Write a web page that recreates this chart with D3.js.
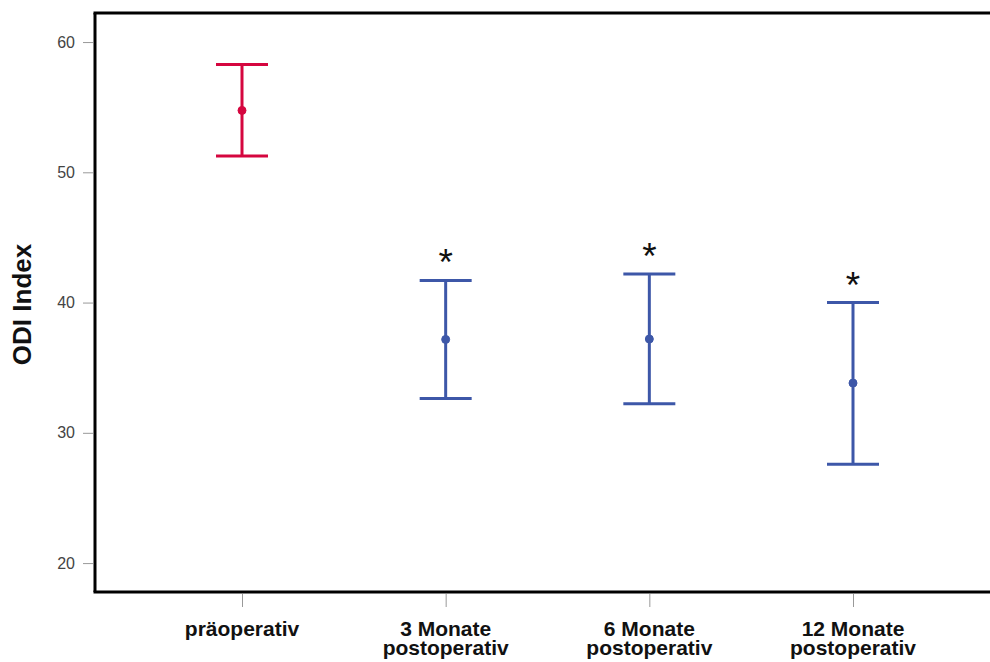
<!DOCTYPE html>
<html>
<head>
<meta charset="utf-8">
<script src="https://cdn.jsdelivr.net/npm/d3@7"></script>
<style>
  html, body { margin: 0; padding: 0; background: #fff; }
  svg { display: block; }
</style>
</head>
<body>
<svg id="chart" width="990" height="662"></svg>
<script>
// ODI index: mean with 95% confidence interval per time point
const categories = ["präoperativ", "3 Monate postoperativ", "6 Monate postoperativ", "12 Monate postoperativ"];
const means = [54.75, 37.17, 37.2, 33.82];
const lower = [51.25, 32.64, 32.23, 27.58];
const upper = [58.27, 41.70, 42.19, 40.0];
const significant = [false, true, true, true];
const yTicks = [20, 30, 40, 50, 60];

const svg = d3.select("#chart");
const W = 990, H = 662;
const margin = { left: 95, top: 13, right: 0, bottom: 70 };
const font = "Arial, 'Liberation Sans', sans-serif";

const y = d3.scaleLinear()
  .domain([17.78, 62.23])
  .range([H - margin.bottom, margin.top]);

const x = d3.scalePoint()
  .domain(categories)
  .range([242, 853]);

const red = "#d5063f", blue = "#3d57a8";
const colorOf = i => i === 0 ? red : blue;

// Frame: left, top and bottom lines
const frame = svg.append("g").attr("stroke", "#000").attr("stroke-width", 3).attr("fill", "none");
frame.append("line").attr("x1", margin.left).attr("x2", margin.left)
  .attr("y1", y.range()[1]).attr("y2", y.range()[0]);
frame.append("line").attr("x1", margin.left - 1.5).attr("x2", W)
  .attr("y1", y.range()[1]).attr("y2", y.range()[1]);
frame.append("line").attr("x1", margin.left - 1.5).attr("x2", W)
  .attr("y1", y.range()[0]).attr("y2", y.range()[0]);

// Y axis
const yAxis = svg.append("g")
  .attr("transform", `translate(${margin.left - 2},0)`)
  .call(d3.axisLeft(y).tickValues(yTicks).tickSize(10).tickPadding(8).tickFormat(d3.format("d")));
yAxis.select(".domain").remove();
yAxis.selectAll(".tick line").attr("stroke", "#999").attr("stroke-width", 1);
yAxis.selectAll(".tick text")
  .attr("fill", "#444")
  .style("font-family", font)
  .style("font-size", "16px");

// X axis
const xAxis = svg.append("g")
  .attr("transform", `translate(0,${y.range()[0] + 2})`)
  .call(d3.axisBottom(x).tickSize(13).tickFormat(""));
xAxis.select(".domain").remove();
xAxis.selectAll(".tick line").attr("stroke", "#999").attr("stroke-width", 1);

// Two-line category labels
const labelG = svg.append("g")
  .style("font-family", font)
  .style("font-size", "21px")
  .style("font-weight", "bold")
  .attr("fill", "#111")
  .attr("text-anchor", "middle");
categories.forEach(c => {
  const m = c.match(/^(\d+ Monate) (postoperativ)$/);
  const lines = m ? [m[1], m[2]] : [c];
  const t = labelG.append("text").attr("x", x(c)).attr("y", 636);
  lines.forEach((l, i) => {
    t.append("tspan").attr("x", x(c)).attr("dy", i === 0 ? 0 : 19).text(l);
  });
});

// Y axis title
svg.append("text")
  .attr("transform", `translate(31,${(y.range()[0] + y.range()[1]) / 2 + 2}) rotate(-90)`)
  .attr("text-anchor", "middle")
  .style("font-family", font)
  .style("font-size", "26px")
  .style("font-weight", "bold")
  .attr("fill", "#111")
  .text("ODI Index");

// Error bars
const capHalf = 26;
const bars = svg.append("g").selectAll("g")
  .data(categories.map((c, i) => ({ c, i, m: means[i], lo: lower[i], hi: upper[i] })))
  .join("g")
  .attr("stroke", d => colorOf(d.i))
  .attr("fill", d => colorOf(d.i))
  .attr("stroke-width", 3);

bars.append("line")
  .attr("x1", d => x(d.c)).attr("x2", d => x(d.c))
  .attr("y1", d => y(d.hi)).attr("y2", d => y(d.lo));
bars.append("line")
  .attr("x1", d => x(d.c) - capHalf).attr("x2", d => x(d.c) + capHalf)
  .attr("y1", d => y(d.hi)).attr("y2", d => y(d.hi));
bars.append("line")
  .attr("x1", d => x(d.c) - capHalf).attr("x2", d => x(d.c) + capHalf)
  .attr("y1", d => y(d.lo)).attr("y2", d => y(d.lo));
bars.append("circle")
  .attr("cx", d => x(d.c)).attr("cy", d => y(d.m))
  .attr("r", 4).attr("stroke-width", 1);

// Significance markers
svg.append("g").selectAll("text")
  .data(categories.map((c, i) => ({ c, hi: upper[i], sig: significant[i] })).filter(d => d.sig))
  .join("text")
  .attr("x", d => x(d.c))
  .attr("y", d => y(d.hi) - 5)
  .attr("text-anchor", "middle")
  .style("font-family", font)
  .style("font-size", "37px")
  .attr("fill", "#111")
  .text("*");
</script>
</body>
</html>
